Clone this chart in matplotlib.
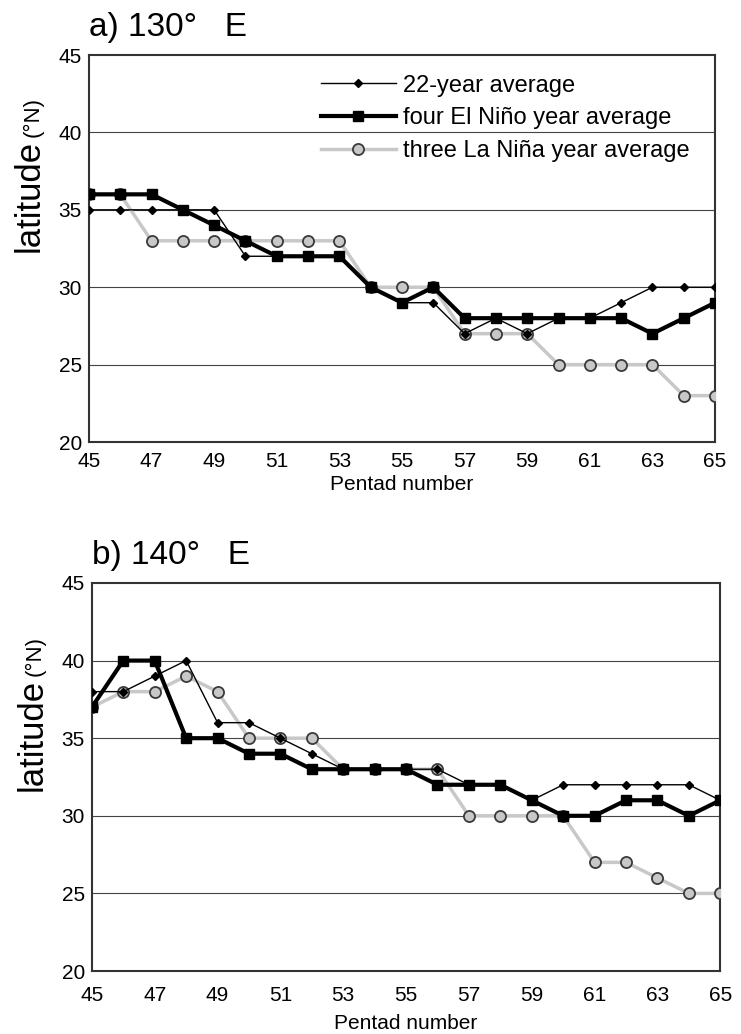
import numpy as np
import matplotlib
matplotlib.use('Agg')
import matplotlib.pyplot as plt

plt.rcParams['font.family'] = ['Liberation Sans', 'DejaVu Sans']

pentads = list(range(45, 66))
xticks = list(range(45, 66, 2))
yticks = [20, 25, 30, 35, 40, 45]

labels = ['22-year average', 'four El Niño year average', 'three La Niña year average']

# a) 130E
a_avg22 = [35, 35, 35, 35, 35, 32, 32, 32, 32, 30, 29, 29, 27, 28, 27, 28, 28, 29, 30, 30, 30]
a_elnino = [36, 36, 36, 35, 34, 33, 32, 32, 32, 30, 29, 30, 28, 28, 28, 28, 28, 28, 27, 28, 29]
a_lanina = [36, 36, 33, 33, 33, 33, 33, 33, 33, 30, 30, 30, 27, 27, 27, 25, 25, 25, 25, 23, 23]

# b) 140E
b_avg22 = [38, 38, 39, 40, 36, 36, 35, 34, 33, 33, 33, 33, 32, 32, 31, 32, 32, 32, 32, 32, 31]
b_elnino = [37, 40, 40, 35, 35, 34, 34, 33, 33, 33, 33, 32, 32, 32, 31, 30, 30, 31, 31, 30, 31]
b_lanina = [37, 38, 38, 39, 38, 35, 35, 35, 33, 33, 33, 33, 30, 30, 30, 30, 27, 27, 26, 25, 25]

titles = ['a) 130°   E', 'b) 140°   E']

fig = plt.figure(figsize=(7.41, 10.34), dpi=100)
ax_a = fig.add_axes([0.120, 0.5725, 0.845, 0.3743])
ax_b = fig.add_axes([0.124, 0.0609, 0.848, 0.3753])

def draw_panel(ax, avg22, elnino, lanina, title, ylab_pos, xpad, xlabpad, legend=False):
    ax.plot(pentads, lanina, color='#c8c8c8', lw=2.5, marker='o', ms=8,
            mfc='#c8c8c8', mec='#3a3a3a', mew=1.3, zorder=3, label=labels[2])
    ax.plot(pentads, elnino, color='black', lw=3, marker='s', ms=7.5,
            zorder=4, label=labels[1])
    ax.plot(pentads, avg22, color='black', lw=1, marker='D', ms=4,
            zorder=5, label=labels[0])

    ax.set_xlim(45, 65)
    ax.set_ylim(20, 45)
    ax.set_xticks(xticks)
    ax.set_yticks(yticks)
    ax.tick_params(length=0, labelsize=15, pad=5)
    ax.tick_params(axis='x', pad=xpad)
    for y in yticks[1:-1]:
        ax.axhline(y, color='#444444', lw=0.8, zorder=1)
    for s in ax.spines.values():
        s.set_color('#333333')
        s.set_linewidth(1.5)
    ax.set_xlabel('Pentad number', fontsize=15, labelpad=xlabpad)
    ax.text(0.0, 1.03, title, transform=ax.transAxes, fontsize=24,
            ha='left', va='bottom')
    ax.text(-0.095, ylab_pos[0], 'latitude', transform=ax.transAxes, fontsize=25,
            rotation=90, ha='center', va='center')
    ax.text(-0.09, ylab_pos[1], '(°N)', transform=ax.transAxes, fontsize=16,
            rotation=90, ha='center', va='center')

    if legend:
        h, l = ax.get_legend_handles_labels()
        ax.legend(h[::-1], l[::-1], loc='upper left', bbox_to_anchor=(0.351, 0.98),
                  frameon=False, fontsize=17, numpoints=1, handlelength=3.2,
                  handletextpad=0.3, labelspacing=0.45, borderpad=0)

draw_panel(ax_a, a_avg22, a_elnino, a_lanina, titles[0], (0.636, 0.84), 7, 3, legend=True)
draw_panel(ax_b, b_avg22, b_elnino, b_lanina, titles[1], (0.608, 0.813), 11, 6)

plt.savefig('out.png', dpi=100)
